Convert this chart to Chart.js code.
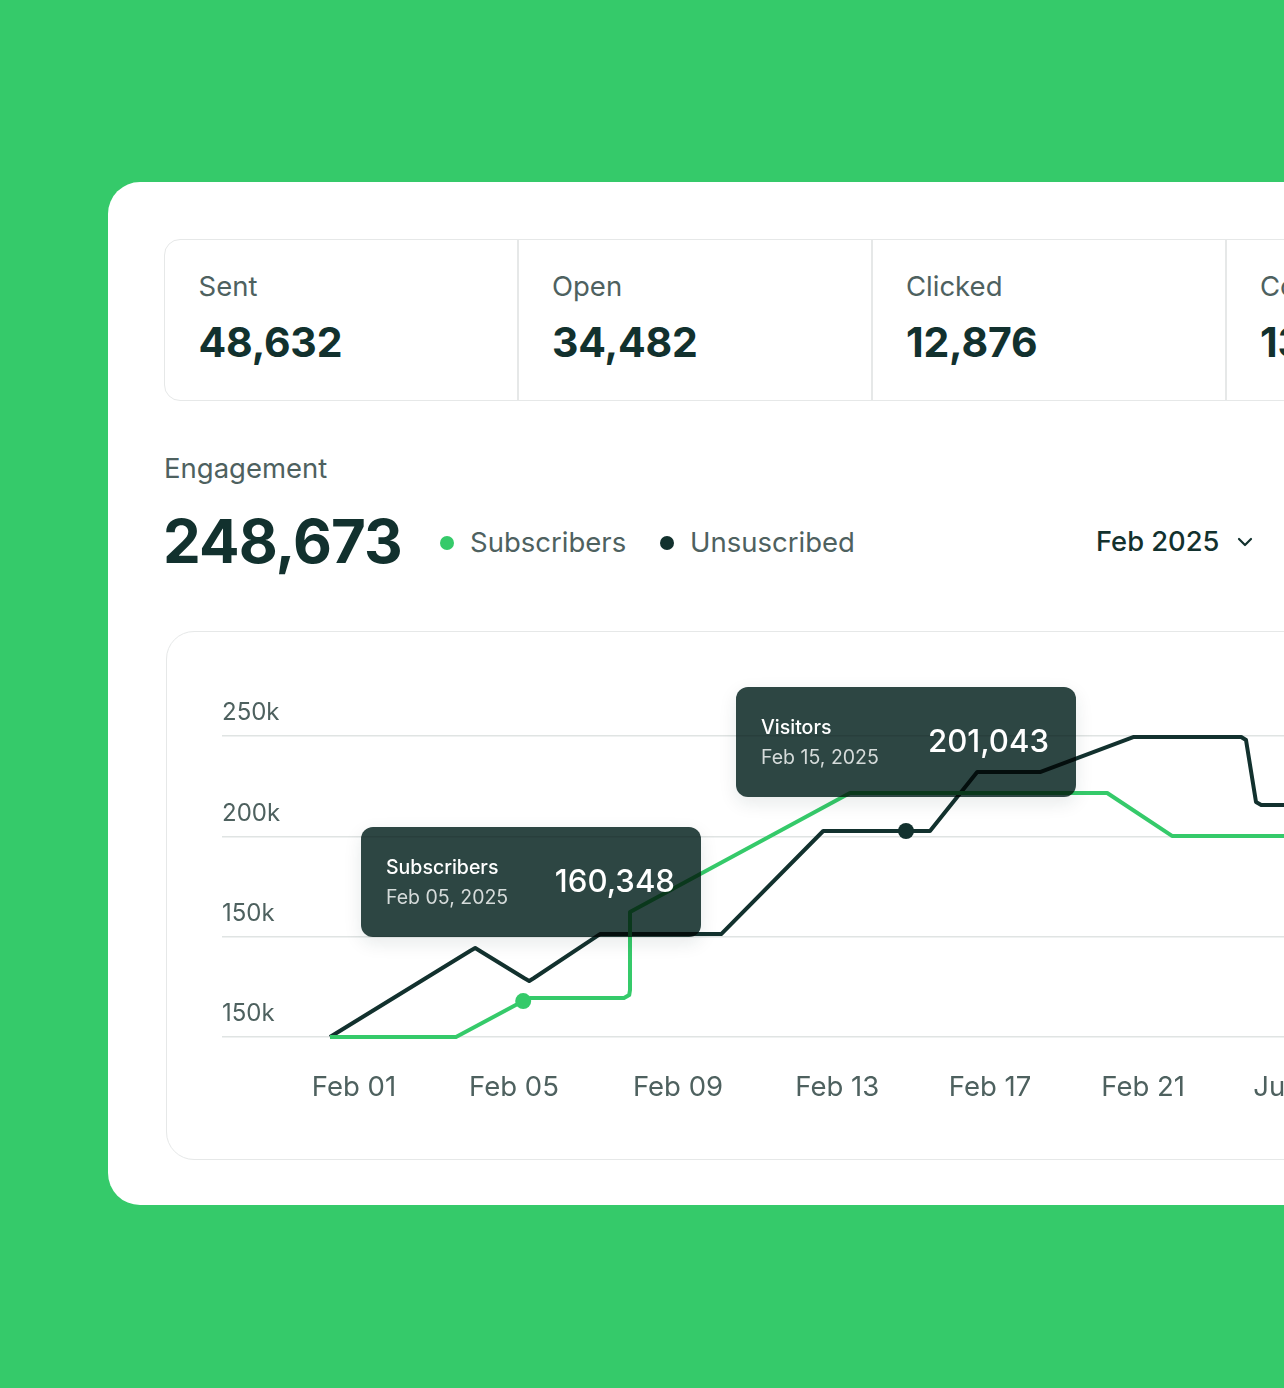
<!DOCTYPE html>
<html>
<head>
<meta charset="utf-8">
<script src="https://cdn.jsdelivr.net/npm/chart.js@4"></script>
<style>
html, body { margin: 0; padding: 0; }
body { position: relative; width: 1284px; height: 1388px; overflow: hidden; background: #35CA6A; font-family: Inter, "Noto Sans", sans-serif; }
.abs { position: absolute; white-space: nowrap; }
#card { position: absolute; left: 108px; top: 182px; width: 1300px; height: 1023px; background: #fff; border-radius: 32px; }
#stats { position: absolute; left: 164px; top: 239px; width: 1300px; height: 162px; border: 1.5px solid #E6E8E8; border-radius: 16px; box-sizing: border-box; }
.divider { position: absolute; top: 239px; width: 1.5px; height: 162px; background: #E6E8E8; }
#plotBox { position: absolute; left: 166px; top: 631px; width: 1300px; height: 529px; border: 1.5px solid #E6E8E8; border-radius: 28px; box-sizing: border-box; }
.statLabel { font-size: 27.5px; color: #4E615F; line-height: 34px; }
.statValue { font-size: 41px; font-weight: 700; color: #12312E; line-height: 50px; letter-spacing: -0.2px; }
.dot { position: absolute; width: 14px; height: 14px; border-radius: 50%; }
#grafico { position: absolute; left: 0; top: 0; }
.tipBg { position: absolute; width: 340px; height: 110px; background: #2D4643; border-radius: 12px; mix-blend-mode: multiply; box-shadow: 0 6px 18px rgba(18,49,46,0.10); }
.tipName { font-size: 19.5px; font-weight: 500; color: #fff; line-height: 24px; }
.tipDate { font-size: 19.5px; color: #D5DBDA; line-height: 24px; }
.tipValue { font-size: 31.2px; font-weight: 500; color: #fff; line-height: 38px; }
</style>
</head>
<body>
<div id="card"></div>
<div id="stats"></div>
<div class="divider" style="left:517px"></div>
<div class="divider" style="left:871px"></div>
<div class="divider" style="left:1225px"></div>

<div class="abs statLabel" style="left:198.5px;top:269px">Sent</div>
<div class="abs statValue" style="left:198.5px;top:317px">48,632</div>
<div class="abs statLabel" style="left:552px;top:269px">Open</div>
<div class="abs statValue" style="left:552px;top:317px">34,482</div>
<div class="abs statLabel" style="left:906px;top:269px">Clicked</div>
<div class="abs statValue" style="left:906px;top:317px">12,876</div>
<div class="abs statLabel" style="left:1260px;top:269px">Conversion</div>
<div class="abs statValue" style="left:1260px;top:317px">13,245</div>

<div class="abs statLabel" style="left:164px;top:451px">Engagement</div>
<div class="abs" style="left:163px;top:504px;font-size:60px;font-weight:700;color:#12312E;line-height:74px;letter-spacing:-0.9px">248,673</div>
<div class="dot" style="left:440px;top:536px;background:#35CA6A"></div>
<div class="abs statLabel" style="left:470px;top:525px">Subscribers</div>
<div class="dot" style="left:660px;top:536px;background:#12312E"></div>
<div class="abs statLabel" style="left:690px;top:525px">Unsuscribed</div>
<div class="abs" style="left:1096px;top:525px;font-size:27.3px;font-weight:500;color:#12312E;line-height:34px">Feb 2025</div>
<svg class="abs" style="left:1237px;top:535px" width="16" height="14" viewBox="0 0 16 14"><path d="M2 4 L8 10 L14 4" fill="none" stroke="#12312E" stroke-width="2.2" stroke-linecap="round" stroke-linejoin="round"/></svg>

<div id="plotBox"></div>
<canvas id="grafico" width="1400" height="1388"></canvas>

<div class="tipBg" style="left:361px;top:827px"></div>
<div class="abs tipName" style="left:386px;top:855px">Subscribers</div>
<div class="abs tipDate" style="left:386px;top:885px">Feb 05, 2025</div>
<div class="abs tipValue" style="right:609px;top:862px">160,348</div>

<div class="tipBg" style="left:736px;top:687px"></div>
<div class="abs tipName" style="left:761px;top:715px">Visitors</div>
<div class="abs tipDate" style="left:761px;top:745px">Feb 15, 2025</div>
<div class="abs tipValue" style="right:235px;top:722px">201,043</div>

<script>
// EIXOS
const xTickDays = [1, 5, 9.1, 13.08, 16.9, 20.73, 24.6]
const xTickLabels = ['Feb 01', 'Feb 05', 'Feb 09', 'Feb 13', 'Feb 17', 'Feb 21', 'Jun 25']
const yTickValues = [100000, 150000, 200000, 250000]
const yTickLabels = ['150k', '150k', '200k', '250k']

// SUBSCRIBERS
const subscribersDays = [0.4, 3.55, 5.23, 5.4, 7.75, 7.88, 7.9, 7.9, 13.4, 19.83, 21.45, 27.15]
const subscribersValues = [100000, 100000, 117900, 119400, 119400, 120900, 123400, 162300, 221600, 221600, 200200, 200200]
const subscribersMarker = 2

// UNSUSCRIBED
const unsubscribedDays = [0.4, 3.9, 4.03, 4.15, 5.25, 5.38, 5.5, 7.15, 10.18, 12.73, 14.8, 15.4, 16.58, 18.15, 20.48, 23.18, 23.3, 23.55, 23.68, 27.15]
const unsubscribedValues = [100000, 142850, 144350, 142850, 129400, 127900, 129400, 151300, 151300, 202650, 202650, 202650, 232050, 232050, 249500, 249500, 248000, 217100, 215600, 215600]
const unsubscribedMarker = 10

const verde = '#35CA6A'
const escuro = '#12312E'
const corTexto = '#4E615F'

function montarPontos(dias, valores) {
    return dias.map((dia, i) => ({ x: dia, y: valores[i] }))
}

new Chart(document.getElementById('grafico'), {
    type: 'line',
    data: {
        datasets: [
            {
                label: 'Subscribers',
                data: montarPontos(subscribersDays, subscribersValues),
                borderColor: verde,
                backgroundColor: verde,
                borderWidth: 4,
                borderJoinStyle: 'round',
                clip: false,
                pointRadius: (ctx) => ctx.dataIndex === subscribersMarker ? 8 : 0,
                pointBorderWidth: 0
            },
            {
                label: 'Unsuscribed',
                data: montarPontos(unsubscribedDays, unsubscribedValues),
                borderColor: escuro,
                backgroundColor: escuro,
                borderWidth: 4,
                borderJoinStyle: 'round',
                clip: false,
                pointRadius: (ctx) => ctx.dataIndex === unsubscribedMarker ? 8 : 0,
                pointBorderWidth: 0
            }
        ]
    },
    options: {
        responsive: false,
        animation: false,
        events: [],
        layout: { padding: { left: 222, top: 736, right: 0, bottom: 0 } },
        plugins: { legend: { display: false }, tooltip: { enabled: false } },
        scales: {
            x: {
                type: 'linear',
                min: -2.3,
                max: 27.15,
                afterFit: (scale) => { scale.height = 351 },
                afterBuildTicks: (scale) => { scale.ticks = xTickDays.map((v) => ({ value: v })) },
                grid: { display: false },
                border: { display: false },
                ticks: {
                    autoSkip: false,
                    maxRotation: 0,
                    padding: 26,
                    color: corTexto,
                    font: { family: 'Inter', size: 27.5 },
                    callback: (v) => xTickLabels[xTickDays.indexOf(v)]
                }
            },
            y: {
                min: 100000,
                max: 250000,
                afterFit: (scale) => { scale.width = 0 },
                afterBuildTicks: (scale) => { scale.ticks = yTickValues.map((v) => ({ value: v })) },
                grid: { color: '#E0E4E3', lineWidth: 1.5, drawTicks: false },
                border: { display: false },
                ticks: {
                    mirror: true,
                    padding: 0,
                    labelOffset: -23,
                    color: corTexto,
                    font: { family: 'Inter', size: 24 },
                    callback: (v) => yTickLabels[yTickValues.indexOf(v)]
                }
            }
        }
    }
})
</script>
</body>
</html>
